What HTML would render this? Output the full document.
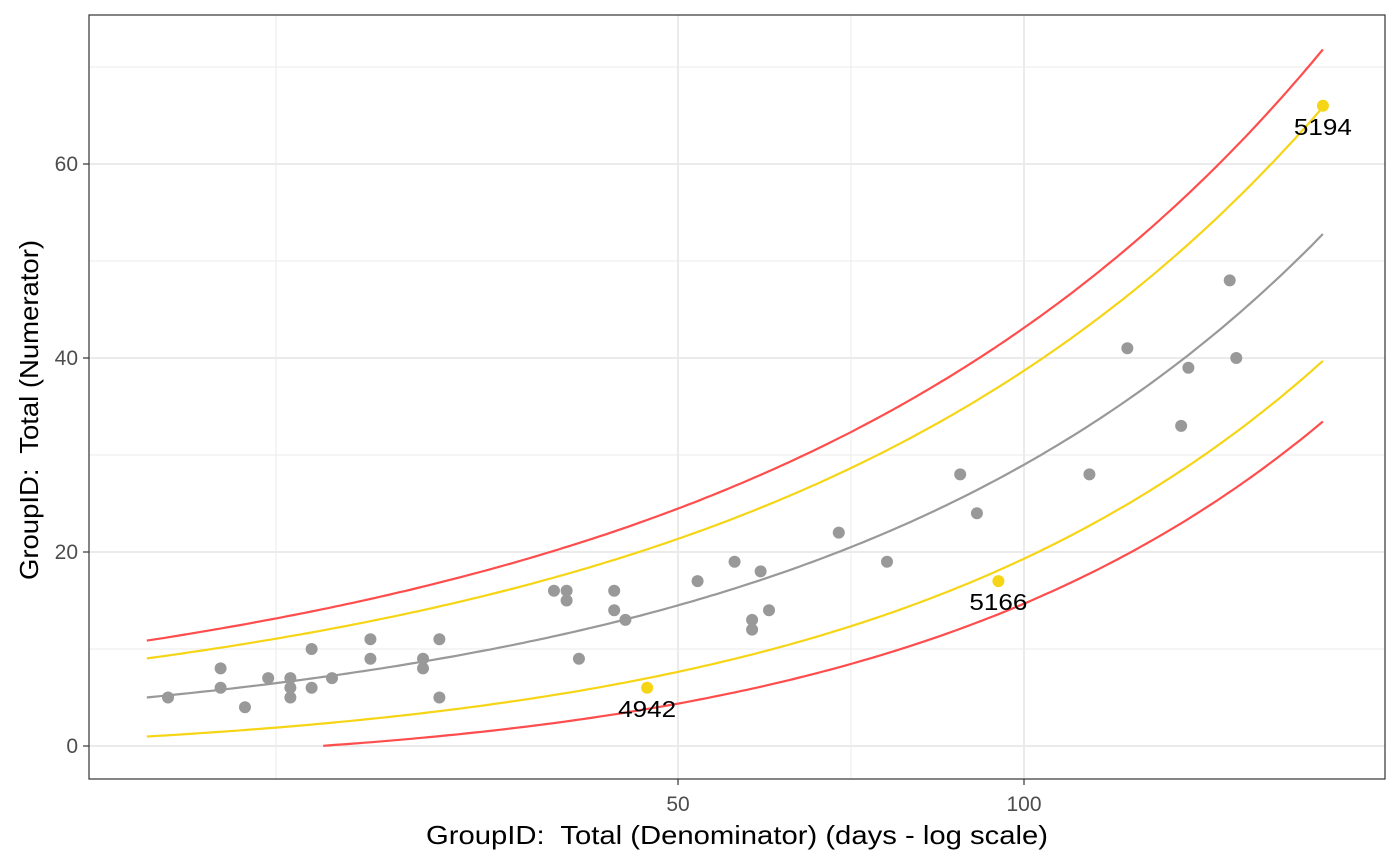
<!DOCTYPE html>
<html><head><meta charset="utf-8"><style>
html,body{margin:0;padding:0;background:#fff;}
svg{display:block;font-family:"Liberation Sans",sans-serif;}
</style></head><body>
<svg id="chart" width="1400" height="865"></svg>
<script>
const days = [18,20,20,21,22,23,23,23,24,24,25,27,27,30,30,31,31,39,40,40,41,44,44,45,52,56,58,58,59,60,69,76,88,91,114,123,137,139,151,153];
const counts = [5,8,6,4,7,7,6,5,10,6,7,11,9,9,8,11,5,16,16,15,9,16,14,13,17,19,13,12,18,14,22,19,28,24,28,41,33,39,48,40];
const outDays = [47,95,182];
const outCounts = [6,17,66];
const outLabels = ["4942","5166","5194"];
const xTicks = [50,100];
const xMinor = [22.35,70.7];
const yTicks = [0,20,40,60];
const yMinor = [10,30,50,70];
const rate = 0.29;
const xStart = 17.25, xEnd = 182;

const NS="http://www.w3.org/2000/svg";
const svg=document.getElementById('chart');
const L=89,R=1385,T=15,B=779;
function sx(v){return 678+1149.4*Math.log10(v/50);}
function sy(v){return 746-9.7*v;}
function el(t,a,p){const e=document.createElementNS(NS,t);for(const k in a)e.setAttribute(k,a[k]);(p||svg).appendChild(e);return e;}

const grid=el('g',{});


yMinor.forEach(v=>{if(sy(v)>T)el('line',{x1:L,x2:R,y1:sy(v),y2:sy(v),stroke:'#ebebeb','stroke-width':1},grid);});
xMinor.forEach(v=>el('line',{x1:sx(v),x2:sx(v),y1:T,y2:B,stroke:'#ebebeb','stroke-width':1},grid));
yTicks.forEach(v=>el('line',{x1:L,x2:R,y1:sy(v),y2:sy(v),stroke:'#ebebeb','stroke-width':2},grid));
xTicks.forEach(v=>el('line',{x1:sx(v),x2:sx(v),y1:T,y2:B,stroke:'#ebebeb','stroke-width':2},grid));

function curve(z,name,color){
  let pts=[];
  for(let i=0;i<=200;i++){
    const d=Math.exp(Math.log(xStart)+(Math.log(xEnd)-Math.log(xStart))*i/200);
    const m=rate*d, v=m+z*Math.sqrt(m);
    if(v>=0)pts.push(sx(d).toFixed(1)+','+sy(v).toFixed(1));
  }
  const p=el('polyline',{points:pts.join(' '),fill:'none',stroke:color,'stroke-width':2.2});
  
  
}
curve(2.62,'upper-99-limit','#ff4d4d');
curve(1.8,'upper-95-limit','#f5d515');
curve(0,'mean-line','#999999');
curve(-1.8,'lower-95-limit','#f5d515');
curve(-2.66,'lower-99-limit','#ff4d4d');

days.forEach((d,i)=>{
  const c=el('circle',{cx:sx(d),cy:sy(counts[i]),r:6,fill:'#999999'});
  
  
});
outDays.forEach((d,i)=>{
  const c=el('circle',{cx:sx(d),cy:sy(outCounts[i]),r:6,fill:'#f5d515'});
  
  
  const t=el('text',{x:sx(d),y:sy(outCounts[i])+29,'text-anchor':'middle','font-size':23,fill:'#000',textLength:58,lengthAdjust:'spacingAndGlyphs'});
  t.textContent=outLabels[i];
  
  
});

const frame=el('rect',{x:L,y:T,width:R-L,height:B-T,fill:'none',stroke:'#333','stroke-width':1.2});



yTicks.forEach(v=>{
  el('line',{x1:L-6,x2:L,y1:sy(v),y2:sy(v),stroke:'#333','stroke-width':1.2});
  const t=el('text',{x:L-11,y:sy(v)+7,'text-anchor':'end','font-size':21,fill:'#4d4d4d'});
  t.textContent=v;
  
  
});
xTicks.forEach(v=>{
  el('line',{x1:sx(v),x2:sx(v),y1:B,y2:B+6,stroke:'#333','stroke-width':1.2});
  const t=el('text',{x:sx(v),y:B+32,'text-anchor':'middle','font-size':21,fill:'#4d4d4d'});
  t.textContent=v;
  
  
});
const xt=el('text',{x:(L+R)/2,y:844,'text-anchor':'middle','font-size':26,fill:'#000',textLength:622,lengthAdjust:'spacingAndGlyphs'});
xt.textContent='GroupID:\u00a0 Total (Denominator) (days - log scale)';


const yt=el('text',{x:0,y:0,'text-anchor':'middle','font-size':26,fill:'#000',textLength:340,lengthAdjust:'spacingAndGlyphs',transform:`translate(38,${(T+B)/2+13}) rotate(-90)`});
yt.textContent='GroupID:\u00a0 Total (Numerator)';


</script>
</body></html>
